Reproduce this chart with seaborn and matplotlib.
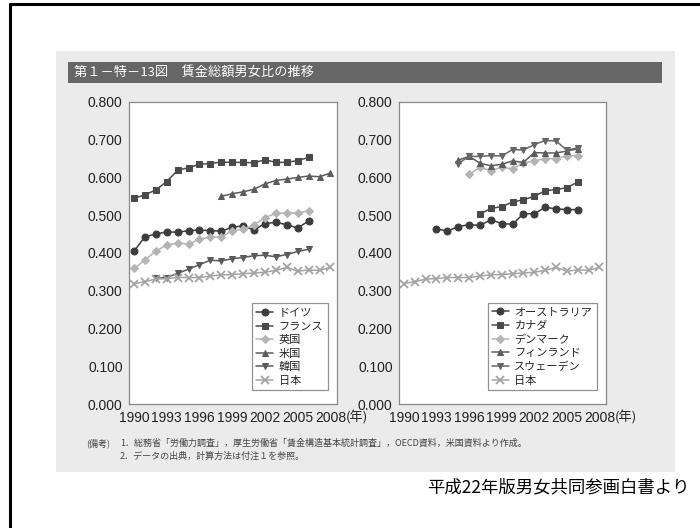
import matplotlib
matplotlib.use('Agg')
import matplotlib.pyplot as plt
import pandas as pd
import seaborn as sns
from matplotlib.patches import Rectangle
from matplotlib.lines import Line2D

# Data (賃金総額男女比)
years_all = list(range(1990, 2009))

germany = [0.404, 0.443, 0.450, 0.456, 0.455, 0.459, 0.461, 0.459, 0.458, 0.468,
           0.472, 0.461, 0.478, 0.481, 0.475, 0.466, 0.485]            # 1990-2006
france = [0.545, 0.554, 0.567, 0.589, 0.619, 0.626, 0.635, 0.637, 0.641, 0.640,
          0.640, 0.639, 0.647, 0.640, 0.640, 0.645, 0.653]             # 1990-2006
uk = [0.359, 0.381, 0.405, 0.421, 0.426, 0.424, 0.436, 0.443, 0.442, 0.459,
      0.463, 0.474, 0.494, 0.505, 0.506, 0.506, 0.512]                 # 1990-2006
us = [0.550, 0.557, 0.562, 0.569, 0.583, 0.592, 0.596, 0.600, 0.604, 0.602, 0.612]  # 1998-2008
korea = [0.333, 0.335, 0.346, 0.357, 0.369, 0.381, 0.379, 0.385, 0.388, 0.393,
         0.394, 0.390, 0.396, 0.404, 0.410]                            # 1992-2006
japan = [0.319, 0.324, 0.331, 0.332, 0.335, 0.335, 0.335, 0.339, 0.342, 0.343,
         0.345, 0.347, 0.349, 0.354, 0.362, 0.352, 0.355, 0.354, 0.362]  # 1990-2008

australia = [0.464, 0.458, 0.470, 0.475, 0.473, 0.488, 0.478, 0.476, 0.504, 0.504,
             0.521, 0.517, 0.515, 0.515]                               # 1993-2006
canada = [0.503, 0.518, 0.523, 0.535, 0.541, 0.550, 0.565, 0.568, 0.573, 0.588]  # 1997-2006
denmark = [0.608, 0.627, 0.618, 0.627, 0.623, 0.638, 0.644, 0.650, 0.650, 0.657, 0.658]  # 1996-2006
finland = [0.646, 0.656, 0.638, 0.631, 0.635, 0.644, 0.640, 0.666, 0.665, 0.665, 0.670, 0.676]  # 1995-2006
sweden = [0.637, 0.656, 0.656, 0.658, 0.657, 0.674, 0.673, 0.687, 0.698, 0.697, 0.672, 0.679]  # 1995-2006

left_series = [
    ('ドイツ', 1990, germany, 'o', '#3c3c3c'),
    ('フランス', 1990, france, 's', '#4a4a4a'),
    ('英国', 1990, uk, 'D', '#b4b4b4'),
    ('米国', 1998, us, '^', '#5c5c5c'),
    ('韓国', 1992, korea, 'v', '#5a5a5a'),
    ('日本', 1990, japan, 'x', '#a4a4a4'),
]
right_series = [
    ('オーストラリア', 1993, australia, 'o', '#3c3c3c'),
    ('カナダ', 1997, canada, 's', '#4a4a4a'),
    ('デンマーク', 1996, denmark, 'D', '#b4b4b4'),
    ('フィンランド', 1995, finland, '^', '#5c5c5c'),
    ('スウェーデン', 1995, sweden, 'v', '#666666'),
    ('日本', 1990, japan, 'x', '#a4a4a4'),
]

yticks = [0.0, 0.1, 0.2, 0.3, 0.4, 0.5, 0.6, 0.7, 0.8]
xticks = [1990, 1993, 1996, 1999, 2002, 2005, 2008]

sns.set_style('white')
plt.rcParams['font.family'] = ['Liberation Sans', 'Noto Sans CJK JP']

W, H = 700, 528
fig = plt.figure(figsize=(7, 5.28), dpi=100)
fig.patch.set_facecolor('white')


def fx(x):
    return x / W


def fy(y):
    return 1 - y / H


# grey panel, title bar, frame lines
fig.add_artist(Rectangle((fx(56), fy(472)), fx(675) - fx(56), fy(51) - fy(472),
                         transform=fig.transFigure, facecolor='#ebebeb',
                         edgecolor='none', zorder=0))
fig.add_artist(Rectangle((fx(68), fy(83)), fx(662) - fx(68), fy(62) - fy(83),
                         transform=fig.transFigure, facecolor='#666666',
                         edgecolor='none', zorder=0))
fig.text(fx(74), fy(72.5), '第１－特－13図　賃金総額男女比の推移', color='white',
         fontsize=9.5, va='center', ha='left', family=['Noto Sans CJK JP'])
fig.add_artist(Line2D([fx(10), fx(10)], [fy(4), 0], color='black', lw=2.2,
                      transform=fig.transFigure))
fig.add_artist(Line2D([fx(10), 1], [fy(4), fy(4)], color='black', lw=2.2,
                      transform=fig.transFigure))


def draw_panel(rect, series):
    ax = fig.add_axes(rect)
    ax.set_facecolor('white')
    for name, start, vals, mk, col in series:
        df = pd.DataFrame({'year': list(range(start, start + len(vals))), 'ratio': vals})
        if mk == 'x':
            sns.lineplot(data=df, x='year', y='ratio', ax=ax, color=col, lw=1.1,
                         marker='x', markersize=6, markeredgewidth=1.3,
                         markeredgecolor=col, label=name)
        else:
            sns.lineplot(data=df, x='year', y='ratio', ax=ax, color=col, lw=1.1,
                         marker=mk, markersize=5 if mk != 'D' else 4.3,
                         markeredgecolor=col, markerfacecolor=col, label=name)
    ax.set_xlim(1989.55, 2008.6)
    ax.set_ylim(0, 0.8)
    ax.set_yticks(yticks)
    ax.set_yticklabels([f'{v:.3f}' for v in yticks], fontsize=10, color='#222222')
    ax.set_xticks(xticks)
    ax.set_xticklabels([str(v) for v in xticks], fontsize=10, color='#222222')
    ax.set_xticks(years_all, minor=True)
    ax.tick_params(axis='x', which='both', direction='in', length=3, width=0.7,
                   color='#777777', pad=5)
    ax.tick_params(axis='y', direction='out', length=2.5, width=0.7, color='#777777', pad=2)
    ax.set_xlabel('')
    ax.set_ylabel('')
    for sp in ax.spines.values():
        sp.set_color('#888888')
        sp.set_linewidth(0.9)
    ax.annotate('(年)', xy=(2008, 0), xycoords=('data', 'axes fraction'),
                xytext=(11, -4.5), textcoords='offset points', ha='left', va='top',
                fontsize=9.5, color='#222222', family=['Noto Sans CJK JP'])
    leg = ax.legend(loc='lower right', bbox_to_anchor=(0.955, 0.046),
                    borderaxespad=0, frameon=True, fancybox=False,
                    edgecolor='#777777', handlelength=1.5, handletextpad=0.5,
                    labelspacing=0.32, borderpad=0.4,
                    prop={'family': ['Noto Sans CJK JP'], 'size': 8})
    leg.get_frame().set_linewidth(0.9)
    return ax


ax_l = draw_panel([fx(129), fy(404), fx(337) - fx(129), fy(102) - fy(404)], left_series)
ax_r = draw_panel([fx(399), fy(404), fx(606) - fx(399), fy(102) - fy(404)], right_series)

note_font = ['Noto Sans CJK JP']
fig.text(fx(86), fy(443), '(備考)', fontsize=6.5, color='#444444', va='center',
         family=note_font)
fig.text(fx(120), fy(443),
         '1．総務省「労働力調査」，厚生労働省「賃金構造基本統計調査」，OECD資料，米国資料より作成。',
         fontsize=6.5, color='#444444', va='center', family=note_font)
fig.text(fx(120), fy(456), '2．データの出典，計算方法は付注１を参照。',
         fontsize=6.5, color='#444444', va='center', family=note_font)

fig.text(fx(690), fy(487), '平成22年版男女共同参画白書より', fontsize=12.5,
         color='black', ha='right', va='center', family=['Noto Sans CJK JP'])

fig.savefig('out.png', dpi=100)
